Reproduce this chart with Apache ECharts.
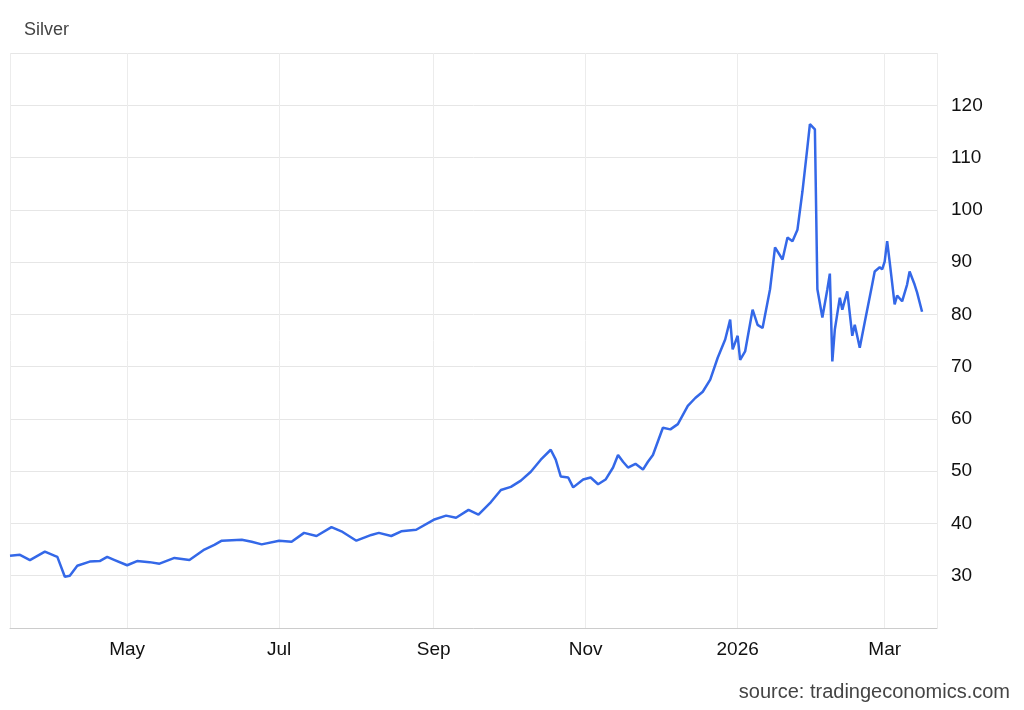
<!DOCTYPE html>
<html>
<head>
<meta charset="utf-8">
<script src="https://cdn.jsdelivr.net/npm/echarts@6/dist/echarts.min.js"></script>
<style>
html,body{margin:0;padding:0;background:#fff;}
#chart{width:1024px;height:710px;}
</style>
</head>
<body>
<div id="chart"></div>
<script>
// 日期和价格
var dates = [
  '2025-03-15','2025-03-19','2025-03-23','2025-03-26','2025-03-29','2025-04-02','2025-04-03','2025-04-06','2025-04-08','2025-04-11',
  '2025-04-16','2025-04-20','2025-04-23','2025-04-26','2025-05-01','2025-05-05','2025-05-10','2025-05-14','2025-05-20','2025-05-26',
  '2025-06-01','2025-06-05','2025-06-08','2025-06-16','2025-06-20','2025-06-24','2025-07-01','2025-07-06','2025-07-11','2025-07-16',
  '2025-07-22','2025-07-26','2025-08-01','2025-08-07','2025-08-10','2025-08-15','2025-08-19','2025-08-25','2025-09-01','2025-09-06',
  '2025-09-10','2025-09-15','2025-09-19','2025-09-24','2025-09-28','2025-10-02','2025-10-06','2025-10-10','2025-10-14','2025-10-18',
  '2025-10-20','2025-10-22','2025-10-25','2025-10-27','2025-10-31','2025-11-03','2025-11-06','2025-11-09','2025-11-12','2025-11-14',
  '2025-11-16','2025-11-18','2025-11-21','2025-11-24','2025-11-26','2025-11-28','2025-12-02','2025-12-05','2025-12-08','2025-12-12',
  '2025-12-15','2025-12-18','2025-12-21','2025-12-24','2025-12-27','2025-12-29','2025-12-30','2026-01-01','2026-01-02','2026-01-04',
  '2026-01-07','2026-01-09','2026-01-11','2026-01-14','2026-01-16','2026-01-19','2026-01-21','2026-01-23','2026-01-25','2026-01-27',
  '2026-01-29','2026-01-30','2026-02-01','2026-02-02','2026-02-04','2026-02-06','2026-02-07','2026-02-08','2026-02-09','2026-02-11',
  '2026-02-12','2026-02-14','2026-02-16','2026-02-17','2026-02-19','2026-02-21','2026-02-24','2026-02-25','2026-02-27','2026-02-28',
  '2026-03-01','2026-03-02','2026-03-03','2026-03-05','2026-03-06','2026-03-08','2026-03-10','2026-03-11','2026-03-13','2026-03-14',
  '2026-03-16'
];
var prices = [
  33.8,34.0,33.0,33.8,34.6,33.8,33.6,29.8,30.0,31.9,
  32.7,32.8,33.6,33.0,32.0,32.8,32.6,32.3,33.4,33.0,
  35.0,35.9,36.7,36.9,36.5,36.0,36.7,36.5,38.2,37.6,
  39.3,38.5,36.7,37.8,38.2,37.6,38.5,38.8,40.7,41.5,
  41.1,42.6,41.7,44.1,46.4,47.0,48.2,49.9,52.2,54.1,
  52.2,49.0,48.8,46.9,48.4,48.8,47.5,48.4,50.7,53.1,
  51.8,50.7,51.4,50.3,51.8,53.1,58.3,58.0,59.0,62.5,
  64.0,65.2,67.5,71.7,75.2,79.0,73.3,75.9,71.3,72.9,
  80.9,78.0,77.4,84.8,92.8,90.5,94.7,94.0,96.2,103.5,
  112.0,116.4,115.4,84.8,79.4,84.8,87.8,71.0,77.1,83.2,
  80.9,84.4,75.9,78.0,73.6,78.5,85.7,88.2,89.0,88.6,
  90.1,94.0,90.1,81.9,83.6,82.5,85.7,88.2,85.7,84.2,
  80.5
];
var monthNames = ['Jan','Feb','Mar','Apr','May','Jun','Jul','Aug','Sep','Oct','Nov','Dec'];

var seriesData = [];
for (var i = 0; i < dates.length; i++) {
    seriesData.push([dates[i], prices[i]]);
}

var chart = echarts.init(document.getElementById('chart'));
var option = {
    animation: false,
    title: {
        text: 'Silver',
        left: 19, top: 16,
        textStyle: { color: '#444', fontSize: 18, fontWeight: 'normal', fontFamily: 'Liberation Sans' }
    },
    graphic: [{
        type: 'text', right: 14, bottom: 8,
        style: { text: 'source: tradingeconomics.com', fill: '#444', fontSize: 20, fontFamily: 'Liberation Sans' }
    }],
    grid: { left: 10, right: 87, top: 53, bottom: 82 },
    xAxis: {
        type: 'time',
        min: '2025-03-15',
        max: '2026-03-22',
        minInterval: 3600 * 24 * 1000 * 59,
        maxInterval: 3600 * 24 * 1000 * 62,
        axisLine: { lineStyle: { color: '#ccc' } },
        axisTick: { show: false },
        axisLabel: {
            color: '#111', fontSize: 19, fontFamily: 'Liberation Sans', margin: 12,
            formatter: function (v) {
                var d = new Date(v);
                if (d.getDate() !== 1) return '';
                if (d.getMonth() === 0) return '' + d.getFullYear();
                return monthNames[d.getMonth()];
            }
        },
        splitLine: { show: true, lineStyle: { color: '#ececec' } }
    },
    yAxis: {
        type: 'value',
        position: 'right',
        min: 20, max: 130, interval: 10,
        axisLine: { show: false },
        axisTick: { show: false },
        axisLabel: {
            color: '#111', fontSize: 19, fontFamily: 'Liberation Sans', margin: 14,
            formatter: function (v) { return (v === 20 || v === 130) ? '' : v; }
        },
        splitLine: { lineStyle: { color: '#e6e6e6' } }
    },
    series: [{
        type: 'line',
        data: seriesData,
        symbol: 'none',
        lineStyle: { color: '#3468e8', width: 2.5 },
        itemStyle: { color: '#3468e8' }
    }]
};
chart.setOption(option);
</script>
</body>
</html>
